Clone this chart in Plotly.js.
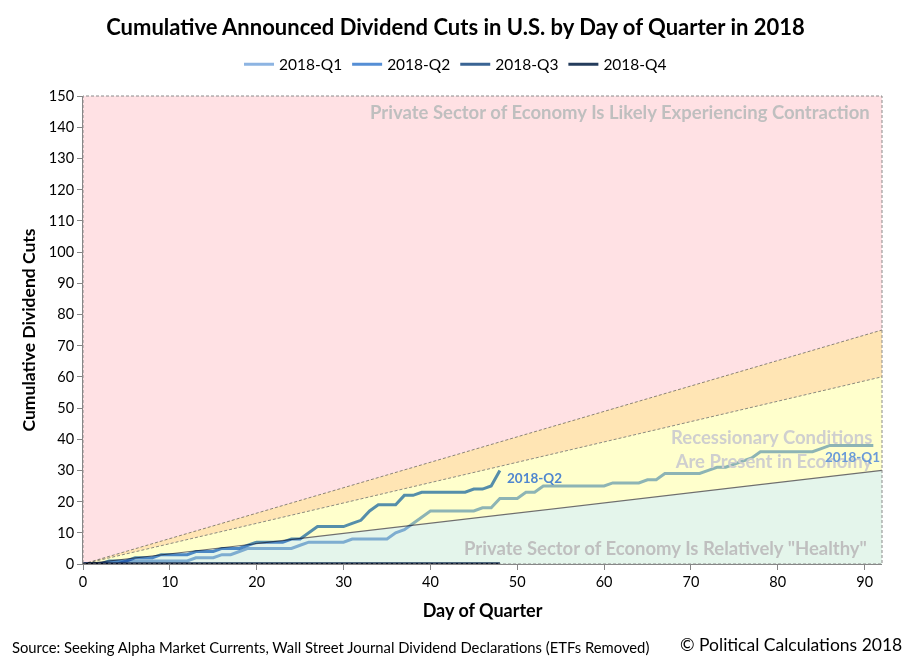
<!DOCTYPE html>
<html>
<head>
<meta charset="utf-8">
<script src="https://cdn.plot.ly/plotly-3.0.1.min.js"></script>
<style>
  html, body { margin: 0; padding: 0; background: #fff; }
  #chart { width: 911px; height: 661px; }
</style>
</head>
<body>
<div id="chart"></div>
<script>
// cumulative dividend cuts, one value per day of quarter (index = day)
const q1Cuts = [0, 0, 0, 0, 0, 1, 1, 1, 1, 1, 1, 1, 1, 2, 2, 2, 3, 3, 4, 5,
  5, 5, 5, 5, 5, 6, 7, 7, 7, 7, 7, 8, 8, 8, 8, 8, 10, 11, 13, 15,
  17, 17, 17, 17, 17, 17, 18, 18, 21, 21, 21, 23, 23, 25, 25, 25, 25, 25, 25, 25,
  25, 26, 26, 26, 26, 27, 27, 29, 29, 29, 29, 29, 30, 31, 31, 32, 33, 34, 36, 36,
  36, 36, 36, 36, 36, 37, 38, 38, 38, 38, 38, 38];
const q2Cuts = [0, 0, 0, 1, 1, 1, 2, 2, 2, 3, 3, 3, 3, 4, 4, 4, 5, 5, 5, 6,
  7, 7, 7, 7, 8, 8, 10, 12, 12, 12, 12, 13, 14, 17, 19, 19, 19, 22, 22, 23,
  23, 23, 23, 23, 23, 24, 24, 25, 30];
const q3Cuts = [0, 0, 0, 0, 0, 0, 0, 0, 0, 0, 0, 0, 0, 0, 0, 0, 0, 0, 0, 0,
  0, 0, 0, 0, 0, 0, 0, 0, 0, 0, 0, 0, 0, 0, 0, 0, 0, 0, 0, 0,
  0, 0, 0, 0, 0, 0, 0, 0, 0];
const q4Cuts = [0, 0, 0, 0, 0, 0, 0, 0, 0, 0, 0, 0, 0, 0, 0, 0, 0, 0, 0, 0,
  0, 0, 0, 0, 0, 0, 0, 0, 0, 0, 0, 0, 0, 0, 0, 0, 0, 0, 0, 0,
  0, 0, 0, 0, 0, 0, 0, 0, 0];
const quarterNames = ["2018-Q1", "2018-Q2", "2018-Q3", "2018-Q4"];

// zone thresholds (start and end of quarter)
const zoneDays = [0, 92];
const healthyTop = [0, 30];
const recessionTop = [0, 60];
const contractionTop = [0, 75];
const chartTop = [150, 150];

const FONT = "Lato, 'Open Sans', sans-serif";
const dayIdx = arr => arr.map((v, i) => i);

let data = [];

// zones first, lines over them
data.push({
  x: zoneDays, y: healthyTop, mode: "lines", fill: "tozeroy",
  fillcolor: "#e4f5eb", line: { color: "#6f6f6f", width: 1.2 },
  showlegend: false, hoverinfo: "skip"
});
data.push({
  x: zoneDays, y: recessionTop, mode: "lines", fill: "tonexty",
  fillcolor: "#ffffcc", line: { color: "#8a8a8a", width: 1, dash: "3px,2px" },
  showlegend: false, hoverinfo: "skip"
});
data.push({
  x: zoneDays, y: contractionTop, mode: "lines", fill: "tonexty",
  fillcolor: "#ffe5b4", line: { color: "#8a8a8a", width: 1, dash: "3px,2px" },
  showlegend: false, hoverinfo: "skip"
});
data.push({
  x: zoneDays, y: chartTop, mode: "lines", fill: "tonexty",
  fillcolor: "#ffe1e4", line: { width: 0 },
  showlegend: false, hoverinfo: "skip"
});

const series = [q1Cuts, q2Cuts, q3Cuts, q4Cuts];
const colors = ["#8db4e2", "#558ed5", "#3a6494", "#243c5c"];
for (let i = 0; i < series.length; i++) {
  data.push({
    x: dayIdx(series[i]),
    y: series[i],
    mode: "lines",
    type: "scatter",
    name: quarterNames[i],
    line: { color: colors[i], width: 3 }
  });
}

const layout = {
  width: 911,
  height: 661,
  margin: { l: 83, r: 29, t: 96, b: 97 },
  paper_bgcolor: "#ffffff",
  plot_bgcolor: "#ffffff",
  font: { family: FONT, size: 14, color: "#000" },
  title: {
    text: "<b>Cumulative Announced Dividend Cuts in U.S. by Day of Quarter in 2018</b>",
    font: { family: FONT, size: 22, color: "#000" },
    x: 0.5, xanchor: "center", y: 0.959, yanchor: "middle"
  },
  showlegend: true,
  legend: {
    orientation: "h",
    traceorder: "normal",
    xref: "container", yref: "container",
    x: 0.5, xanchor: "center", y: 0.902, yanchor: "middle",
    font: { family: FONT, size: 15.5 },
    itemwidth: 30
  },
  xaxis: {
    range: [0, 92],
    tick0: 0, dtick: 10,
    showgrid: false, zeroline: false,
    showline: true, linecolor: "#868686", linewidth: 1,
    ticks: "outside", ticklen: 5, tickcolor: "#868686",
    tickfont: { size: 14.5 },
    title: { text: "<b>Day of Quarter</b>", font: { size: 18 }, standoff: 14 }
  },
  yaxis: {
    range: [0, 150],
    tick0: 0, dtick: 10,
    showgrid: true, gridcolor: "#d9d9d9", gridwidth: 1,
    zeroline: false,
    showline: true, linecolor: "#868686", linewidth: 1,
    ticks: "outside", ticklen: 5, tickcolor: "#868686",
    tickfont: { size: 14.5 },
    title: { text: "<b>Cumulative Dividend Cuts</b>", font: { size: 17.5 }, standoff: 8 }
  },
  shapes: [
    {
      type: "rect", xref: "paper", yref: "paper", x0: 0, x1: 1, y0: 0, y1: 1,
      line: { color: "#8a8a8a", width: 1, dash: "3px,2px" }, layer: "above"
    }
  ],
  annotations: [
    {
      x: 90.8, y: 145, xref: "x", yref: "y", xanchor: "right", yanchor: "middle",
      text: "<b>Private Sector of Economy Is Likely Experiencing Contraction</b>",
      showarrow: false, font: { size: 18.5, color: "#bfbfbf" }
    },
    {
      x: 91.2, y: 36.8, xref: "x", yref: "y", xanchor: "right", yanchor: "middle",
      align: "right",
      text: "<b>Recessionary Conditions<br>Are Present in Economy</b>",
      showarrow: false, font: { size: 18.5, color: "#cfcfcf" }
    },
    {
      x: 90.5, y: 5, xref: "x", yref: "y", xanchor: "right", yanchor: "middle",
      text: "<b>Private Sector of Economy Is Relatively \"Healthy\"</b>",
      showarrow: false, font: { size: 18.5, color: "#bfbfbf" }
    },
    {
      x: 48.6, y: 27.6, xref: "x", yref: "y", xanchor: "left", yanchor: "middle",
      text: "<b>2018-Q2</b>", showarrow: false,
      font: { size: 13.5, color: "#4f86cf" }
    },
    {
      x: 92, y: 34.2, xref: "x", yref: "y", xanchor: "right", yanchor: "middle",
      text: "<b>2018-Q1</b>", showarrow: false,
      font: { size: 13.5, color: "#6a9ad8" }
    },
    {
      x: -0.091, y: -0.177, xref: "paper", yref: "paper", xanchor: "left", yanchor: "middle",
      text: "Source: Seeking Alpha Market Currents, Wall Street Journal Dividend Declarations (ETFs Removed)",
      showarrow: false, font: { size: 14.8, color: "#000" }
    },
    {
      x: 1.028, y: -0.173, xref: "paper", yref: "paper", xanchor: "right", yanchor: "middle",
      text: "© Political Calculations 2018",
      showarrow: false, font: { size: 17.5, color: "#000" }
    }
  ]
};

Plotly.newPlot("chart", data, layout, { displayModeBar: false, staticPlot: true }).then(gd => {
  // Excel-like look: zones and lines multiply over what is beneath them
  gd.querySelectorAll(".scatterlayer .trace").forEach(t => {
    t.style.mixBlendMode = "multiply";
  });
});
</script>
</body>
</html>
